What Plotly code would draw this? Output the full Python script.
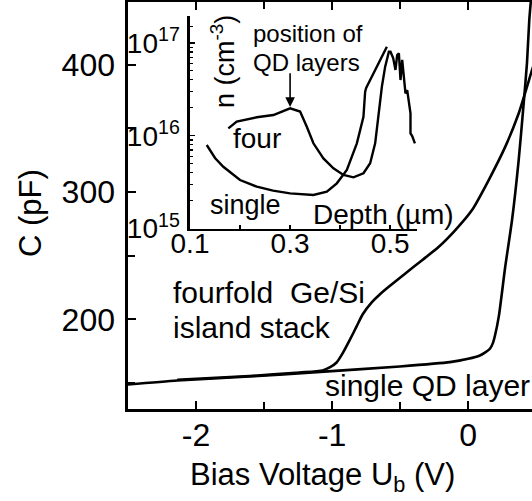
import plotly.graph_objects as go

# ---------------- data ----------------
# main panel: C-V curves (bias voltage in V, capacitance in pF)
single_v = [-2.502, -2.138, -1.608, -1.114, -0.503, -0.135, 0.0, 0.086, 0.12, 0.160, 0.18, 0.197, 0.226,
            0.272, 0.322, 0.371, 0.408, 0.432, 0.449, 0.465]
single_c = [148.9, 152.1, 155.2, 158.6, 163.1, 166.5, 169.1, 171.7, 173.8, 177.0, 181.0, 187.4, 203.0,
            241.1, 277.8, 324.9, 369.7, 401.1, 434.9, 455.0]

four_v = [-2.138, -1.608, -1.239, -1.07, -1.018, -0.967, -0.923, -0.872, -0.820, -0.776, -0.709, -0.650,
          -0.586, -0.464, -0.341, -0.218, -0.096, 0.027, 0.150, 0.272, 0.371, 0.432, 0.469, 0.53]
four_c = [152.6, 155.6, 158.4, 160.0, 162.3, 166.2, 173.3, 183.5, 194.5, 203.9, 213.4, 219.6,
          225.4, 235.9, 246.3, 256.8, 269.9, 285.6, 309.2, 335.4, 361.6, 382.5, 395.6, 415.0]

# inset: carrier concentration profiles (depth in um, n in cm^-3)
inset_four_d = [0.1766, 0.1934, 0.2334, 0.2666, 0.300, 0.320, 0.3334, 0.3466, 0.3666, 0.3866, 0.4066,
                0.4266, 0.4466, 0.460, 0.470, 0.4766, 0.4834, 0.490, 0.4974, 0.5006, 0.506, 0.5106,
                0.514, 0.5174, 0.5206, 0.524, 0.5274, 0.5306, 0.534, 0.5374, 0.5406, 0.5406, 0.544, 0.5494]
inset_four_n = [1.20e16, 1.42e16, 1.58e16, 1.67e16, 1.97e16, 1.82e16, 1.25e16, 8.28e15, 5.70e15, 4.46e15,
                3.78e15, 3.56e15, 3.94e15, 5.05e15, 8.28e15, 1.60e16, 3.37e16, 5.55e16, 8.04e16, 8.04e16,
                6.87e16, 5.11e16, 7.41e16, 7.73e16, 3.98e16, 6.55e16, 3.98e16, 2.86e16, 3.10e16, 2.43e16,
                1.74e16, 1.06e16, 9.93e15, 8.28e15]

inset_single_d = [0.1334, 0.150, 0.1666, 0.200, 0.2334, 0.266, 0.300, 0.3466, 0.3734, 0.3934, 0.4134,
                  0.4334, 0.4466, 0.450, 0.452, 0.460, 0.470, 0.480, 0.486, 0.4934]
inset_single_n = [7.94e15, 5.75e15, 4.63e15, 3.33e15, 2.82e15, 2.56e15, 2.39e15, 2.30e15, 2.49e15, 3.07e15,
                  4.27e15, 8.28e15, 1.60e16, 2.98e16, 3.27e16, 3.98e16, 5.11e16, 6.55e16, 7.41e16, 9.10e16]

main_xtick_vals = [-2, -1, 0]
main_xtick_text = ["-2", "-1", "0"]
main_yticks = [200, 300, 400]
inset_xtick_vals = [0.1, 0.3, 0.5]
inset_xtick_text = ["0.1", "0.3", "0.5"]
inset_xminor = [0.2, 0.4]
inset_ytick_vals = [1e15, 1e16, 1e17]
inset_ytick_text = ["10<sup>15</sup>", "10<sup>16</sup>", "10<sup>17</sup>"]
inset_yminor = [m * 10 ** e for e in (15, 16) for m in range(2, 10)] + [1.5e17]

# ---------------- layout helpers ----------------
W, H = 532, 501
ML, MR, MT, MB = 128, 0, 2, 92
PW, PH = W - ML - MR, H - MT - MB


def pxx(x):
    return (x - ML) / PW


def pxy(y):
    return (H - MB - y) / PH


FONT = "Liberation Sans, Arial, Helvetica, sans-serif"
LW = 2.6

fig = go.Figure()
fig.add_trace(go.Scatter(x=single_v, y=single_c, mode="lines", line=dict(color="black", width=LW, shape="spline", smoothing=0.6),
                         xaxis="x", yaxis="y", showlegend=False))
fig.add_trace(go.Scatter(x=four_v, y=four_c, mode="lines", line=dict(color="black", width=LW, shape="spline", smoothing=0.6),
                         xaxis="x", yaxis="y", showlegend=False))
fig.add_trace(go.Scatter(x=inset_four_d, y=inset_four_n, mode="lines", line=dict(color="black", width=2.4),
                         xaxis="x2", yaxis="y2", showlegend=False))
fig.add_trace(go.Scatter(x=inset_single_d, y=inset_single_n, mode="lines", line=dict(color="black", width=2.4),
                         xaxis="x2", yaxis="y2", showlegend=False))

axis_common = dict(showline=True, linecolor="black", linewidth=LW, showgrid=False, zeroline=False,
                   ticks="inside", tickcolor="black", automargin=False)

fig.update_layout(
    width=W, height=H,
    margin=dict(l=ML, r=MR, t=MT, b=MB, pad=0),
    paper_bgcolor="white", plot_bgcolor="white",
    font=dict(family=FONT, color="black"),
    hovermode=False,
    xaxis=dict(**axis_common, range=[-2.5, 0.469], tickvals=main_xtick_vals, ticktext=main_xtick_text,
               ticklen=8, tickwidth=2, mirror="allticks", tickfont=dict(size=32), ticklabelstandoff=-4,
               minor=dict(ticks="inside", ticklen=7, tickwidth=2, tickcolor="black", dtick=0.5, tick0=0)),
    yaxis=dict(**axis_common, range=[129.7, 449.1], tickvals=main_yticks, ticklen=8, tickwidth=2,
               mirror=False, tickfont=dict(size=32), ticklabelstandoff=4,
               minor=dict(ticks="inside", ticklen=7, tickwidth=2, tickcolor="black", dtick=50, tick0=0)),
    xaxis2=dict(**axis_common, domain=[pxx(190), pxx(416.7)], anchor="y2", range=[0.1, 0.553],
                tickvals=inset_xtick_vals, ticktext=inset_xtick_text, ticklen=4, tickwidth=1.5,
                tickfont=dict(size=28), ticklabelstandoff=-12,
                minor=dict(ticks="inside", ticklen=4, tickwidth=1.5, tickcolor="black", tickvals=inset_xminor)),
    yaxis2=dict(**axis_common, domain=[pxy(228.5), pxy(16)], anchor="x2", type="log", range=[15, 17.29],
                tickvals=inset_ytick_vals, ticktext=inset_ytick_text, ticklen=5, tickwidth=1.5,
                tickfont=dict(size=28), ticklabelstandoff=2,
                minor=dict(ticks="inside", ticklen=3, tickwidth=1.2, tickcolor="black", tickvals=inset_yminor)),
)


def label(text, x, y, size, xanchor="left", angle=0):
    fig.add_annotation(text=text, x=pxx(x), y=pxy(y), xref="paper", yref="paper", xanchor=xanchor,
                       yanchor="middle", showarrow=False, textangle=angle, font=dict(size=size, color="black"))


# axis titles
label("Bias Voltage U<sub>b</sub> (V)", 322, 477, 31, xanchor="center")
label("C (pF)", 30, 213, 31, xanchor="center", angle=-90)
# main annotations
label("fourfold", 171, 292, 30)
label("Ge/Si", 288, 292, 30)
label("island stack", 171, 327, 30)
label("single QD layer", 323, 385, 30)
# inset annotations
label("position of", 251, 33, 24)
label("QD layers", 251, 63, 24)
label("n (cm<sup>-3</sup>)", 223, 62, 27, xanchor="center", angle=-90)
label("four", 231, 139, 28)
label("single", 208, 205, 27)
label("Depth (\u00b5m)", 311, 214, 28)

# arrow marking the QD layer position
fig.add_annotation(x=0.3, y=16.31, xref="x2", yref="y2", ax=0.3, ay=16.69, axref="x2", ayref="y2",
                   text="", showarrow=True, arrowhead=2, arrowsize=1.2, arrowwidth=1.6, arrowcolor="black",
                   standoff=0)

fig.write_html("out.html", config={"displayModeBar": False, "staticPlot": True},
               post_script="document.body.style.margin='0px';")
